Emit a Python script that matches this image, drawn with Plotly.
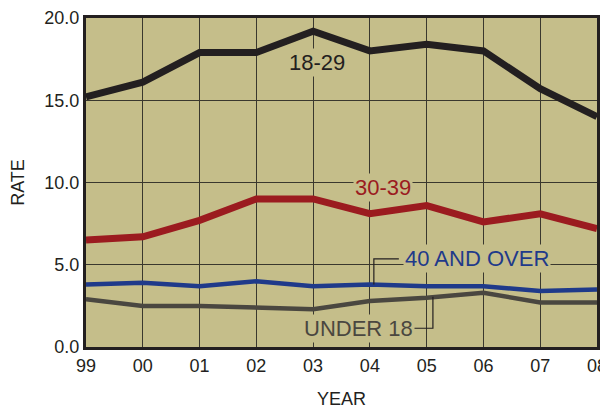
import plotly.graph_objects as go

years = ["99", "00", "01", "02", "03", "04", "05", "06", "07", "08"]
age_18_29 = [15.2, 16.1, 17.9, 17.9, 19.2, 18.0, 18.4, 18.0, 15.7, 14.0]
age_30_39 = [6.5, 6.7, 7.7, 9.0, 9.0, 8.1, 8.6, 7.6, 8.1, 7.2]
age_40_over = [3.8, 3.9, 3.7, 4.0, 3.7, 3.8, 3.7, 3.7, 3.4, 3.5]
under_18 = [2.9, 2.5, 2.5, 2.4, 2.3, 2.8, 3.0, 3.3, 2.7, 2.7]
y_ticks = [0, 5, 10, 15, 20]

BG = "#C5BE8A"
FONT = "Liberation Sans, Arial, sans-serif"
DARK = "#231F20"

xs = list(range(len(years)))

fig = go.Figure()
fig.add_trace(go.Scatter(x=xs, y=under_18, mode="lines", line=dict(color="#4A4740", width=4.5), name="UNDER 18"))
fig.add_trace(go.Scatter(x=xs, y=age_40_over, mode="lines", line=dict(color="#1F3A8A", width=4.5), name="40 AND OVER"))
fig.add_trace(go.Scatter(x=xs, y=age_30_39, mode="lines", line=dict(color="#9B1B1F", width=7), name="30-39"))
fig.add_trace(go.Scatter(x=xs, y=age_18_29, mode="lines", line=dict(color=DARK, width=7), name="18-29"))

def ann(x, y, text, color):
    fig.add_annotation(x=x, y=y, text=text, showarrow=False, xref="x", yref="y",
                       font=dict(family=FONT, size=22, color=color),
                       bgcolor=BG, borderpad=1)

# leader lines
fig.add_shape(type="path", path="M 5.07 3.8 L 5.07 5.36 L 5.51 5.36", xref="x", yref="y",
              line=dict(color=DARK, width=1.2))
fig.add_shape(type="path", path="M 5.76 1.14 L 6.11 1.14 L 6.11 3.05", xref="x", yref="y",
              line=dict(color=DARK, width=1.2))

ann(4.07, 17.3, "18-29", DARK)
ann(5.23, 9.7, "30-39", "#9B1B1F")
ann(6.88, 5.36, "40 AND OVER", "#1F3A8A")
ann(4.80, 1.14, "UNDER 18", "#4A4740")

# page body has an 8px margin; size the figure to fit the 608x409 window
fig.update_layout(
    width=600, height=401,
    margin=dict(l=78, r=11, t=10, b=62),
    paper_bgcolor="white", plot_bgcolor=BG,
    showlegend=False,
    font=dict(family=FONT, color=DARK, size=18),
)
fig.update_xaxes(
    tickmode="array", tickvals=xs, ticktext=years, range=[0, 9],
    showgrid=True, gridcolor="#3A382E", gridwidth=1,
    showline=True, linecolor=DARK, linewidth=3, mirror=True,
    ticks="", ticklen=0, tickfont=dict(size=18), automargin=False,
    ticklabeloverflow="allow",
    title=dict(text="YEAR", font=dict(size=18), standoff=18),
    zeroline=False,
)
fig.update_yaxes(
    tickmode="array", tickvals=y_ticks, ticktext=[f"{v:.1f}" for v in y_ticks], range=[0, 20],
    showgrid=True, gridcolor="#3A382E", gridwidth=1,
    showline=True, linecolor=DARK, linewidth=3, mirror=True,
    ticks="", tickfont=dict(size=18), automargin=False,
    ticklabeloverflow="allow",
    title=dict(text="RATE", font=dict(size=18), standoff=18),
    zeroline=False,
)

fig.write_html("out.html")
